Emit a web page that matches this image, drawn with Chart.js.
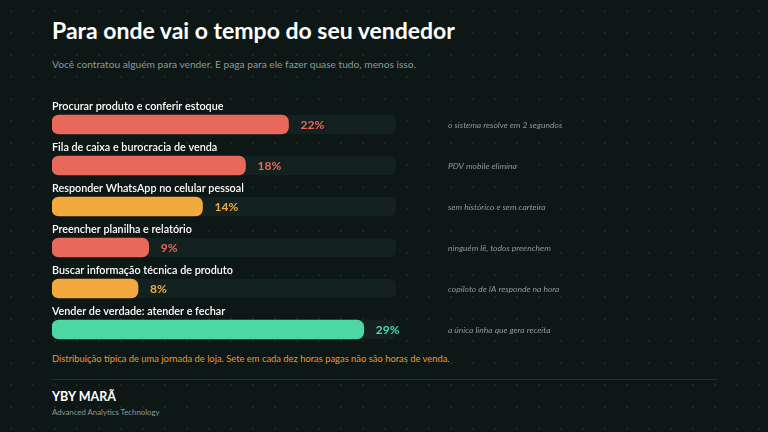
<!DOCTYPE html>
<html><head><meta charset="utf-8">
<script src="https://cdn.jsdelivr.net/npm/chart.js@4"></script>
<style>
body{margin:0;width:768px;height:432px;overflow:hidden;background:#0d1716;
background-image:radial-gradient(#1a2826 1px,transparent 1.2px);background-size:22px 22px;font-family:Lato,sans-serif;position:relative}
#title{position:absolute;left:52px;top:16px;color:#fff;font-size:23px;font-weight:700}
#sub{position:absolute;left:52px;top:58px;color:#8c9a97;font-size:10.2px}
#note{position:absolute;left:52px;top:353px;color:#e39a2f;font-size:9.4px}
#rule{position:absolute;left:52px;top:379px;width:665px;height:1px;background:#22332f}
#brand{position:absolute;left:52px;top:389px;color:#fff;font-size:12.5px;font-weight:700}
#tag{position:absolute;left:52px;top:407px;color:#8c9a97;font-size:7.8px}
canvas{position:absolute;left:0;top:0}
</style></head><body>
<div id="title">Para onde vai o tempo do seu vendedor</div>
<div id="sub">Você contratou alguém para vender. E paga para ele fazer quase tudo, menos isso.</div>
<div id="note">Distribuição típica de uma jornada de loja. Sete em cada dez horas pagas não são horas de venda.</div>
<div id="rule"></div>
<div id="brand">YBY MARÃ</div>
<div id="tag">Advanced Analytics Technology</div>
<canvas id="c" width="768" height="432"></canvas>
<script>
const labels = ["Procurar produto e conferir estoque","Fila de caixa e burocracia de venda","Responder WhatsApp no celular pessoal","Preencher planilha e relatório","Buscar informação técnica de produto","Vender de verdade: atender e fechar"];
const values = [22,18,14,9,8,29];
const notes = ["o sistema resolve em 2 segundos","PDV mobile elimina","sem histórico e sem carteira","ninguém lê, todos preenchem","copiloto de IA responde na hora","a única linha que gera receita"];
const colors = ["#e8685b","#e8685b","#f2a93e","#e8685b","#f2a93e","#4bd8a5"];
const scaleMax = 32;

const textPlugin = {
  id: "texts",
  afterDatasetsDraw(chart) {
    const ctx = chart.ctx, meta = chart.getDatasetMeta(1), x = chart.scales.x;
    ctx.save();
    meta.data.forEach((bar, i) => {
      ctx.textBaseline = "middle";
      ctx.fillStyle = "#ffffff";
      ctx.font = "600 10.8px Lato";
      ctx.textAlign = "left";
      ctx.fillText(labels[i], x.left, bar.y - 18);
      ctx.fillStyle = colors[i];
      ctx.font = "700 12px Lato";
      ctx.fillText(values[i] + "%", bar.x + 12, bar.y + 0.5);
      ctx.fillStyle = "#8c9a97";
      ctx.font = "italic 8.5px Lato";
      ctx.fillText(notes[i], 448, bar.y + 1);
    });
    ctx.restore();
  }
};

new Chart(document.getElementById("c"), {
  type: "bar",
  data: {
    labels: labels,
    datasets: [
      {data: labels.map(() => scaleMax), backgroundColor: "#132220", borderRadius: 7, borderSkipped: false, barThickness: 19, grouped: false, order: 2},
      {data: values, backgroundColor: colors, borderRadius: 7, borderSkipped: false, barThickness: 19, grouped: false, order: 1}
    ]
  },
  options: {
    responsive: false, animation: false, indexAxis: "y",
    layout: {padding: {left: 52, right: 372, top: 104, bottom: 82}},
    plugins: {legend: {display: false}, tooltip: {enabled: false}},
    scales: {
      x: {min: 0, max: scaleMax, display: false},
      y: {display: false}
    }
  },
  plugins: [textPlugin]
});
</script>
</body></html>
